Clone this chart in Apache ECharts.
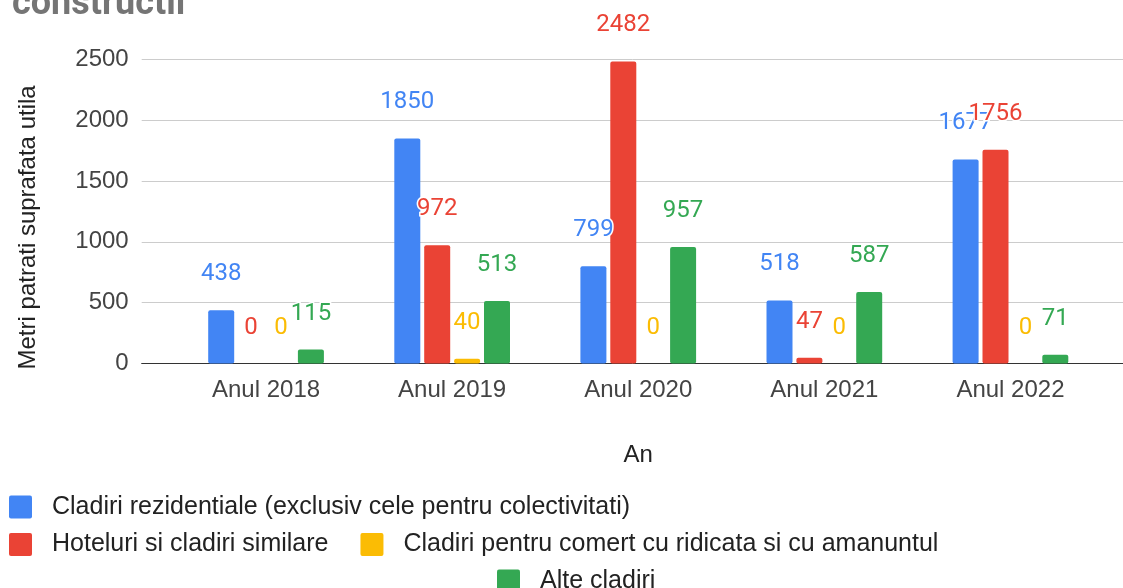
<!DOCTYPE html>
<html>
<head>
<meta charset="utf-8">
<script src="https://cdn.jsdelivr.net/npm/echarts@6/dist/echarts.min.js"></script>
<style>
html,body{margin:0;padding:0;background:#fff;}
#chart{width:1123px;height:588px;}
</style>
</head>
<body>
<div id="chart"></div>
<script>
const categories = ['Anul 2018', 'Anul 2019', 'Anul 2020', 'Anul 2021', 'Anul 2022'];
const seriesNames = [
  'Cladiri rezidentiale (exclusiv cele pentru colectivitati)',
  'Hoteluri si cladiri similare',
  'Cladiri pentru comert cu ridicata si cu amanuntul',
  'Alte cladiri'
];
const rezidentiale = [438, 1850, 799, 518, 1677];
const hoteluri = [0, 972, 2482, 47, 1756];
const comert = [0, 40, 0, 0, 0];
const alte = [115, 513, 957, 587, 71];
const colors = ['#4285f4', '#ea4335', '#fbbc04', '#34a853'];
const yMin = 0, yMax = 2500, yStep = 500;

const chart = echarts.init(document.getElementById('chart'));
const axisFont = 'Liberation Sans, Arial, sans-serif';
const legendIcon = 'path://M2,0 H21 Q23,0 23,2 V21 Q23,23 21,23 H2 Q0,23 0,21 V2 Q0,0 2,0 Z';

function barSeries(i, data) {
  return {
    name: seriesNames[i],
    type: 'bar',
    xAxisIndex: 0,
    yAxisIndex: 0,
    data: data,
    barWidth: 26,
    barGap: '15%',
    itemStyle: { color: colors[i], borderRadius: 2 },
    label: {
      show: true,
      position: 'top',
      distance: 24,
      color: colors[i],
      fontFamily: 'Roboto, sans-serif',
      fontSize: 24,
      textBorderColor: '#fff',
      textBorderWidth: 3
    }
  };
}

function legendRow(names, left, top, gap) {
  return {
    data: names,
    left: left, top: top,
    padding: 0,
    itemWidth: 23, itemHeight: 23,
    itemGap: gap,
    icon: legendIcon,
    selectedMode: false,
    textStyle: { fontFamily: axisFont, fontSize: 25, color: '#222', padding: [0, 0, 0, 15] }
  };
}

const option = {
  animation: false,
  backgroundColor: '#fff',
  title: {
    text: 'constructii',
    left: 7,
    top: -18,
    textStyle: { fontFamily: 'Roboto, sans-serif', fontSize: 36, fontWeight: 'bold', color: '#757575' }
  },
  grid: [
    { left: 173, right: 19.5, top: 59.3, bottom: 224.5 },
    { left: 141.7, right: 0, top: 59.3, bottom: 224.5 }
  ],
  xAxis: [
    {
      type: 'category',
      gridIndex: 0,
      data: categories,
      axisLine: { show: false },
      axisTick: { show: false },
      axisLabel: { fontFamily: axisFont, fontSize: 24, color: '#444', margin: 15 },
      name: 'An',
      nameLocation: 'middle',
      nameGap: 80,
      nameTextStyle: { fontFamily: axisFont, fontSize: 24, color: '#222' }
    },
    {
      type: 'value',
      gridIndex: 1,
      min: 0, max: 1,
      axisLine: { show: true, onZero: false, lineStyle: { color: '#333', width: 1 } },
      axisTick: { show: false },
      axisLabel: { show: false },
      splitLine: { show: false }
    }
  ],
  yAxis: [
    {
      type: 'value',
      gridIndex: 0,
      min: yMin, max: yMax, interval: yStep,
      show: false
    },
    {
      type: 'value',
      gridIndex: 1,
      min: yMin, max: yMax, interval: yStep,
      axisLine: { show: false },
      axisTick: { show: false },
      axisLabel: { fontFamily: axisFont, fontSize: 24, color: '#444', margin: 13, formatter: function (v) { return String(v); } },
      splitLine: { lineStyle: { color: '#cccccc', width: 1 } },
      name: 'Metri patrati suprafata utila',
      nameLocation: 'middle',
      nameRotate: 90,
      nameGap: 101,
      nameTextStyle: { fontFamily: axisFont, fontSize: 24, color: '#222', padding: [0, 32, 0, 0] }
    }
  ],
  legend: [
    legendRow([seriesNames[0]], 9, 494.5, 10),
    legendRow([seriesNames[1], seriesNames[2]], 9, 532, 32),
    legendRow([seriesNames[3]], 497, 568.5, 10)
  ],
  series: [
    barSeries(0, rezidentiale),
    barSeries(1, hoteluri),
    barSeries(2, comert),
    barSeries(3, alte)
  ]
};
chart.setOption(option);
</script>
</body>
</html>
